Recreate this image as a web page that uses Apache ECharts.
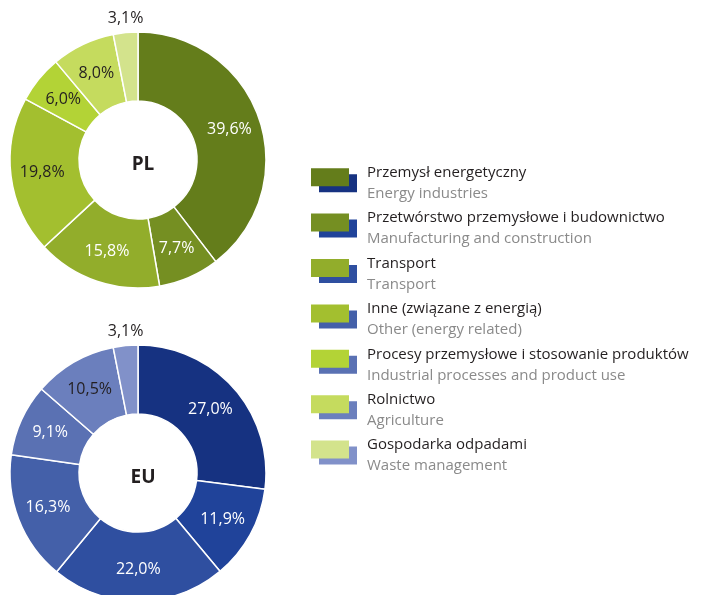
<!DOCTYPE html>
<html>
<head>
<meta charset="utf-8">
<script src="https://cdn.jsdelivr.net/npm/echarts@6/dist/echarts.min.js"></script>
<style>
  html, body { margin: 0; padding: 0; background: #fff; }
  #chart { width: 708px; height: 595px; }
</style>
</head>
<body>
<div id="chart"></div>
<script>
// kategorie (PL / EN)
var namesPl = ['Przemysł energetyczny', 'Przetwórstwo przemysłowe i budownictwo', 'Transport',
  'Inne (związane z energią)', 'Procesy przemysłowe i stosowanie produktów', 'Rolnictwo', 'Gospodarka odpadami'];
var namesEn = ['Energy industries', 'Manufacturing and construction', 'Transport',
  'Other (energy related)', 'Industrial processes and product use', 'Agriculture', 'Waste management'];

// udziały %
var valuesPl = [39.6, 7.7, 15.8, 19.8, 6.0, 8.0, 3.1];
var valuesEu = [27.0, 11.9, 22.0, 16.3, 9.1, 10.5, 3.1];

var colorsPl = ['#647d1b', '#758f22', '#92ad2b', '#a3bf2f', '#b3d336', '#c5db5e', '#d3e38c'];
var colorsEu = ['#163281', '#20439a', '#2f4fa0', '#4460a9', '#5a71b3', '#6b7fbd', '#8191c9'];

// kolor etykiety: biały na ciemnych wycinkach
var darkPl = [false, false, false, true, true, true, true];
var darkEu = [false, false, false, false, false, true, true];

var FONT = '"Open Sans", sans-serif';

function pct(v) {
  return v.toFixed(1).replace('.', ',') + '%';
}

function pieData(values, colors, dark) {
  return values.map(function (v, i) {
    return {
      name: namesPl[i],
      value: v,
      itemStyle: { color: colors[i] },
      label: { color: dark[i] ? '#231f20' : '#ffffff' }
    };
  });
}

function pieSeries(center, values, colors, dark) {
  return {
    type: 'pie',
    center: center,
    radius: [59, 128],
    startAngle: 90,
    clockwise: true,
    silent: true,
    animation: false,
    itemStyle: { borderColor: '#ffffff', borderWidth: 1.5 },
    label: {
      show: true,
      position: 'inside',
      fontFamily: FONT,
      fontSize: 16,
      formatter: function (p) { return pct(p.value); }
    },
    labelLine: { show: false },
    // ostatni, mały wycinek - etykieta nad pierścieniem
    labelLayout: function (p) {
      if (p.dataIndex !== values.length - 1) return;
      return {
        x: p.rect.x + p.rect.width / 2,
        y: p.rect.y - 13,
        align: 'center',
        verticalAlign: 'middle'
      };
    },
    data: pieData(values, colors, dark)
  };
}

// legenda
var graphics = [];
var rowY = 172.7, rowStep = 45.4;
namesPl.forEach(function (n, i) {
  var y = rowY + rowStep * i;
  graphics.push({
    type: 'rect', left: 319, top: y + 1.5,
    shape: { width: 38, height: 18 },
    style: { fill: colorsEu[i] }
  });
  graphics.push({
    type: 'rect', left: 311, top: y - 4.5,
    shape: { width: 38, height: 18 },
    style: { fill: colorsPl[i] }
  });
  graphics.push({
    type: 'text', x: 367, y: y,
    style: { text: n, fill: '#231f20', font: '15px ' + FONT, verticalAlign: 'middle' }
  });
  graphics.push({
    type: 'text', x: 367, y: y + 21,
    style: { text: namesEn[i], fill: '#8a8a8a', font: '15px ' + FONT, verticalAlign: 'middle' }
  });
});

var chart = echarts.init(document.getElementById('chart'));
chart.setOption({
  backgroundColor: '#ffffff',
  title: [
    { text: 'PL', left: 138, top: 160, textAlign: 'center', textVerticalAlign: 'middle',
      textStyle: { fontFamily: FONT, fontSize: 19, fontWeight: 'bold', color: '#231f20' } },
    { text: 'EU', left: 138, top: 473, textAlign: 'center', textVerticalAlign: 'middle',
      textStyle: { fontFamily: FONT, fontSize: 19, fontWeight: 'bold', color: '#231f20' } }
  ],
  series: [
    pieSeries([138, 160], valuesPl, colorsPl, darkPl),
    pieSeries([138, 473], valuesEu, colorsEu, darkEu)
  ],
  graphic: graphics
});
</script>
</body>
</html>
